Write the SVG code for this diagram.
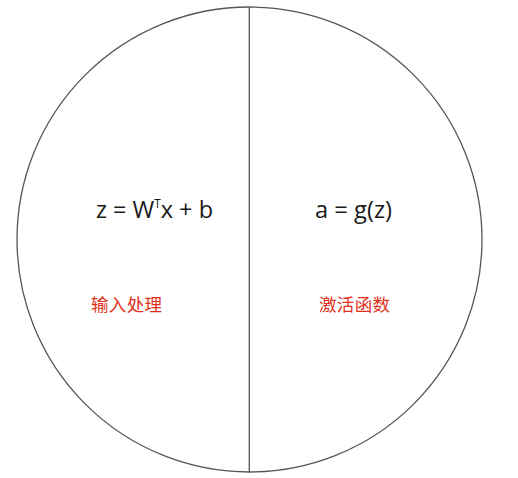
<svg xmlns="http://www.w3.org/2000/svg" width="518" height="478" viewBox="0 0 518 478">
<style>
.ln{fill:none;stroke:#555;stroke-width:1.3}
.eq{font-family:"Open Sans","Liberation Sans",sans-serif;font-size:24px;fill:#1a1a1a}
.cn{font-family:"Noto Sans CJK SC",sans-serif;font-size:17.5px;fill:#e0301a}
</style>
<rect width="518" height="478" fill="#fff"/>
<g id="circle"><circle class="ln" cx="249.5" cy="239.5" r="232.5"/></g>
<g id="connectors"><line class="ln" x1="249.3" y1="7" x2="249.3" y2="472"/></g>
<g id="left">
<text class="eq" x="96" y="218" textLength="117" lengthAdjust="spacingAndGlyphs">z = W<tspan dy="-10" font-size="12">T</tspan><tspan dy="10">x + b</tspan></text>
<text class="cn" x="91" y="311" textLength="71">输入处理</text>
</g>
<g id="right">
<text class="eq" x="315" y="218" textLength="77" lengthAdjust="spacingAndGlyphs">a = g(z)</text>
<text class="cn" x="319" y="311" textLength="71">激活函数</text>
</g>
</svg>
